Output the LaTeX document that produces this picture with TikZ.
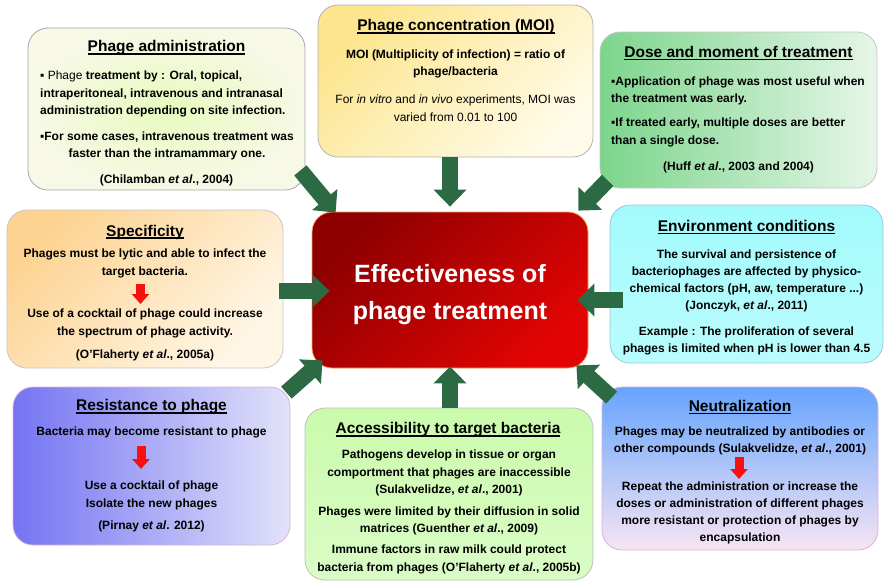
\documentclass[tikz,border=0pt]{standalone}
\usepackage{fontspec}
\setmainfont{Liberation Sans}
\usetikzlibrary{arrows.meta,calc}
\definecolor{arrgreen}{HTML}{2B6A42}
\definecolor{redarr}{HTML}{F81010}
\definecolor{aIn}{HTML}{E8FABF}
\definecolor{aOut}{HTML}{F7F9E6}
\definecolor{bA}{HTML}{FCE58E}
\definecolor{bB}{HTML}{FFFBE8}
\definecolor{cA}{HTML}{7CD58C}
\definecolor{cB}{HTML}{E6F6E8}
\definecolor{dA}{HTML}{FDD392}
\definecolor{dB}{HTML}{FFF6E6}
\definecolor{eA}{HTML}{A2FAFC}
\definecolor{eB}{HTML}{BAFCFD}
\definecolor{fA}{HTML}{7474F3}
\definecolor{fB}{HTML}{E2E2FA}
\definecolor{gA}{HTML}{CAFBAC}
\definecolor{gB}{HTML}{DAFCC6}
\definecolor{hA}{HTML}{66A4FD}
\definecolor{hB}{HTML}{F7E5F3}
\definecolor{rA}{HTML}{8E0000}
\definecolor{rB}{HTML}{E20404}
\newcommand{\myul}[1]{\setbox0\hbox{#1}\rlap{\rule[-2.6pt]{\wd0}{1.2pt}}\box0}
\tikzset{
  box/.style={draw=#1, line width=0.8pt, rounded corners=20pt, inner sep=0pt},
  txt/.style={inner sep=0pt, align=center, font=\fontsize{12}{17.2}\selectfont\bfseries},
  hdg/.style={inner sep=0pt, font=\fontsize{15.5}{18}\selectfont\bfseries},
  ctxt/.style={inner sep=0pt, align=center, text=white, font=\fontsize{25}{37}\selectfont\bfseries},
  garrow/.style={draw=arrgreen, line width=16pt, -{Triangle[width=32pt,length=17pt]}},
  rarrow/.style={draw=redarr, line width=9pt, -{Triangle[width=17pt,length=10pt]}}
}
\begin{document}
\begin{tikzpicture}[x=1pt,y=-1pt]
\useasboundingbox (0,0) rectangle (892,587);
% boxes
\node[box=gray!70, inner color=aIn, outer color=aOut, minimum width=277pt, minimum height=162pt] (b1) at (166.5,109) {};
\node[box=gray!60, top color=bA, bottom color=bB, shading angle=45, minimum width=275pt, minimum height=152pt] (b2) at (455.5,81) {};
\node[box=gray!45, left color=cA, right color=cB, minimum width=277pt, minimum height=156pt] (b3) at (738.5,110) {};
\node[box=gray!45, top color=dA, bottom color=dB, shading angle=45, minimum width=276pt, minimum height=158pt] (b4) at (145,289) {};
\node[box=cyan!50!gray!60, top color=eA, bottom color=eB, minimum width=273pt, minimum height=158pt] (b5) at (746.5,284) {};
\node[box=violet!30, left color=fA, right color=fB, minimum width=277pt, minimum height=158pt] (b6) at (151.5,466) {};
\node[box=gray!50, top color=gA, bottom color=gB, minimum width=288pt, minimum height=172pt] (b7) at (449,494) {};
\node[box=violet!30, top color=hA, bottom color=hB, minimum width=276pt, minimum height=163pt] (b8) at (740,468.5) {};
\node[box=orange!60!brown!70, top color=rA, bottom color=rB, shading angle=45, minimum width=276pt, minimum height=156pt] (c) at (450,290) {};
% centre text
\node[ctxt] (ct) at (450,295) {Effectiveness of\\phage treatment};
% arrow end points
\coordinate (s1) at ($(b1.south east)+(-5,-20)$);
\coordinate (t1) at ($(c.north west)+(24,1)$);
\coordinate (s2) at ($(b2.south)+(-5.5,0)$);
\coordinate (t2) at ($(c.north)+(0,-5)$);
\coordinate (s3) at ($(b3.south west)+(8,-8)$);
\coordinate (t3) at ($(c.north east)+(-10,-1)$);
\coordinate (s4) at ($(b4.east)+(-4,2)$);
\coordinate (t4) at ($(c.west)+(18,1)$);
\coordinate (s5) at ($(b5.west)+(13,16)$);
\coordinate (t5) at ($(c.east)+(-11,10)$);
\coordinate (s6) at ($(b6.north east)+(-4,6)$);
\coordinate (t6) at ($(c.south west)+(11,-8)$);
\coordinate (s7) at ($(b7.north)+(1,0)$);
\coordinate (t7) at ($(c.south)+(0,-2)$);
\coordinate (s8) at ($(b8.north west)+(10,11)$);
\coordinate (t8) at ($(c.south east)+(-12,-3)$);
\draw[garrow] (s1) -- (t1);
\draw[garrow] (s2) -- (t2);
\draw[garrow] (s3) -- (t3);
\draw[garrow] (s4) -- (t4);
\draw[garrow] (s5) -- (t5);
\draw[garrow] (s6) -- (t6);
\draw[garrow] (s7) -- (t7);
\draw[garrow] (s8) -- (t8);
% box 1
\node[hdg] (h1) at (166.5,48) {\myul{Phage administration}};
\node[txt, anchor=west, align=left] (p1a) at (40,94) {▪ {\mdseries Phage} treatment by : Oral, topical,\\intraperitoneal, intravenous and intranasal\\administration depending on site infection.};
\node[txt] (p1b) at (167,145.5) {▪For some cases, intravenous treatment was\\faster than the intramammary one.};
\node[txt] (c1) at (166.5,180) {(Chilamban \textit{et al}., 2004)};
% box 2
\node[hdg] (h2) at (456,27) {\myul{Phage concentration (MOI)}};
\node[txt] (p2a) at (455.5,64) {MOI (Multiplicity of infection) = ratio of\\phage/bacteria};
\node[txt, font=\fontsize{12}{17.6}\selectfont] (p2b) at (455.5,108) {For \textit{in vitro} and \textit{in vivo} experiments, MOI was\\varied from 0.01 to 100};
% box 3
\node[hdg] (h3) at (738.5,53) {\myul{Dose and moment of treatment}};
\node[txt, anchor=west, align=left] (p3a) at (611,90.5) {▪Application of phage was most useful when\\the treatment was early.};
\node[txt, anchor=west, align=left] (p3b) at (611,132.5) {▪If treated early, multiple doses are better\\than a single dose.};
\node[txt] (c3) at (738.5,167) {(Huff \textit{et al}., 2003 and 2004)};
% box 4
\node[hdg] (h4) at (145,232) {\myul{Specificity}};
\node[txt] (p4a) at (145,263.5) {Phages must be lytic and able to infect the\\target bacteria.};
\coordinate (r4s) at (140.5,284);
\coordinate (r4t) at (140.5,304);
\draw[rarrow] (r4s) -- (r4t);
\node[txt] (p4b) at (145,323.5) {Use of a cocktail of phage could increase\\the spectrum of phage activity.};
\node[txt] (c4) at (145,355) {(O'Flaherty \textit{et al}., 2005a)};
% box 5
\node[hdg] (h5) at (746.5,227) {\myul{Environment conditions}};
\node[txt] (p5a) at (746.5,281) {The survival and persistence of\\bacteriophages are affected by physico-\\chemical factors (pH, aw, temperature ...)\\(Jonczyk, \textit{et al}., 2011)};
\node[txt] (p5b) at (746.5,341) {Example : The proliferation of several\\phages is limited when pH is lower than 4.5};
% box 6
\node[hdg] (h6) at (151.5,407) {\myul{Resistance to phage}};
\node[txt] (p6a) at (151.5,432) {Bacteria may become resistant to phage};
\coordinate (r6s) at (141,446);
\coordinate (r6t) at (141,469);
\draw[rarrow] (r6s) -- (r6t);
\node[txt] (p6b) at (151.5,495.5) {Use a cocktail of phage\\Isolate the new phages};
\node[txt] (c6) at (151.5,526) {(Pirnay \textit{et al}. 2012)};
% box 7
\node[hdg] (h7) at (448,430) {\myul{Accessibility to target bacteria}};
\node[txt] (p7a) at (449,473) {Pathogens develop in tissue or organ\\comportment that phages are inaccessible\\(Sulakvelidze, \textit{et al}., 2001)};
\node[txt] (p7b) at (449,520.5) {Phages were limited by their diffusion in solid\\matrices (Guenther \textit{et al}., 2009)};
\node[txt] (p7c) at (449,559.5) {Immune factors in raw milk could protect\\bacteria from phages (O'Flaherty \textit{et al}., 2005b)};
% box 8
\node[hdg] (h8) at (740,407) {\myul{Neutralization}};
\node[txt] (p8a) at (740,440.5) {Phages may be neutralized by antibodies or\\other compounds (Sulakvelidze, \textit{et al}., 2001)};
\coordinate (r8s) at (739,457);
\coordinate (r8t) at (739,479);
\draw[rarrow] (r8s) -- (r8t);
\node[txt] (p8b) at (740,513) {Repeat the administration or increase the\\doses or administration of different phages\\more resistant or protection of phages by\\encapsulation};
\end{tikzpicture}
\end{document}
